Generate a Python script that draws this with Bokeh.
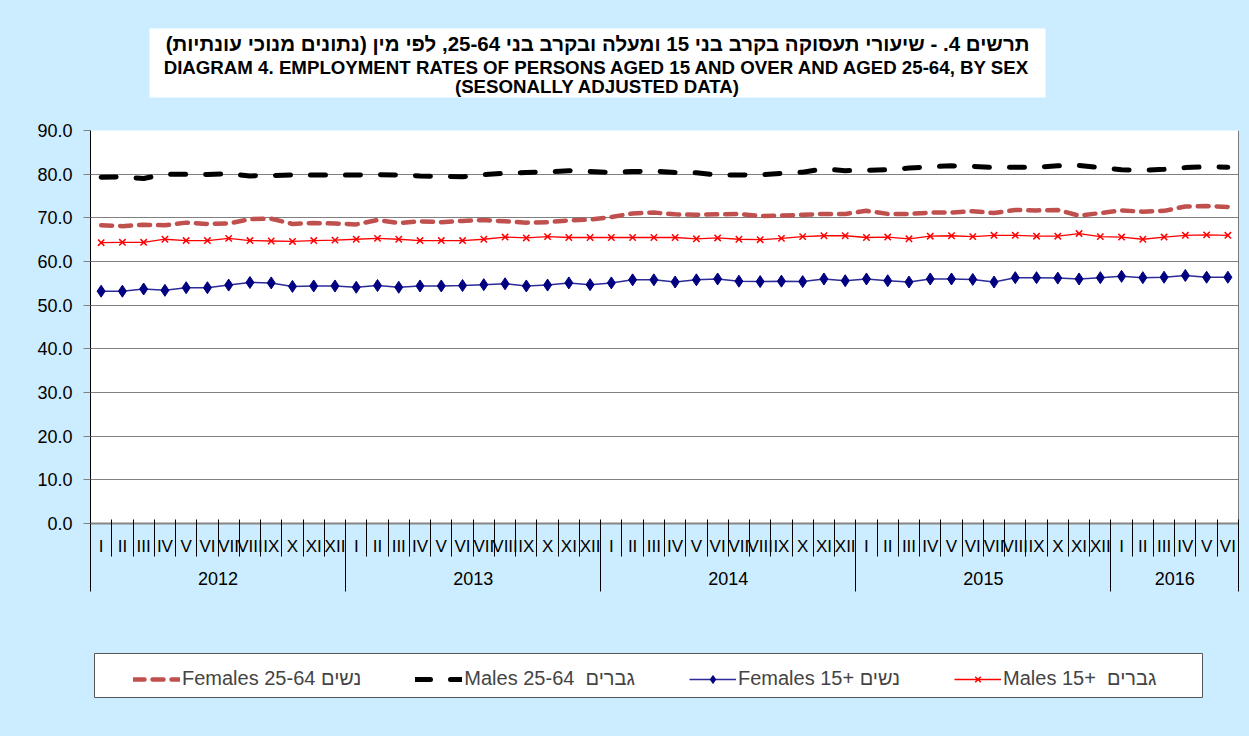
from bokeh.plotting import figure
from bokeh.layouts import column
from bokeh.models import (Range1d, LinearAxis, FixedTicker, NumeralTickFormatter, Legend,
                          LegendItem, Label, Span, Grid)
from bokeh.embed import file_html
from bokeh.resources import INLINE

# ---------------- data ----------------
roman = ["I", "II", "III", "IV", "V", "VI", "VII", "VIII", "IX", "X", "XI", "XII"]
years = ["2012", "2013", "2014", "2015", "2016"]
months_in_year = [12, 12, 12, 12, 6]

females_25_64 = [68.3, 68.1, 68.4, 68.3, 68.9, 68.6, 68.7, 69.7, 69.8, 68.6, 68.8, 68.7, 68.5,
                 69.5, 68.8, 69.2, 69.0, 69.3, 69.5, 69.2, 68.9, 69.0, 69.4, 69.6, 70.2, 71.0, 71.2,
                 70.8, 70.7, 70.8, 70.9, 70.4, 70.5, 70.7, 70.9, 70.9, 71.6, 70.9, 70.9, 71.2, 71.2,
                 71.5, 71.1, 71.8, 71.7, 71.8, 70.5, 71.1, 71.7, 71.4, 71.6, 72.6, 72.7, 72.5]
males_25_64 = [79.3, 79.4, 79.0, 80.0, 80.0, 79.9, 80.1, 79.6, 79.7, 79.8, 79.8, 79.8, 79.8,
               79.9, 79.8, 79.6, 79.5, 79.4, 79.9, 80.2, 80.4, 80.5, 80.8, 80.6, 80.4, 80.6, 80.7,
               80.4, 80.3, 79.8, 79.8, 79.85, 80.2, 80.45, 81.2, 80.8, 80.9, 81.0, 81.4, 81.7, 81.9,
               81.8, 81.5, 81.6, 81.6, 81.9, 82.0, 81.5, 81.0, 80.9, 81.1, 81.5, 81.7, 81.6]
females_15 = [53.2, 53.2, 53.7, 53.4, 54.0, 54.0, 54.6, 55.2, 55.1, 54.3, 54.4, 54.4, 54.1,
              54.5, 54.1, 54.4, 54.4, 54.5, 54.7, 54.9, 54.4, 54.6, 55.1, 54.7, 55.1, 55.8, 55.8,
              55.3, 55.8, 56.0, 55.5, 55.4, 55.5, 55.4, 56.0, 55.6, 56.0, 55.6, 55.3, 56.0, 56.0,
              55.9, 55.3, 56.3, 56.3, 56.2, 56.0, 56.3, 56.6, 56.3, 56.4, 56.8, 56.4, 56.4]
males_15 = [64.3, 64.4, 64.4, 65.1, 64.8, 64.8, 65.3, 64.8, 64.7, 64.6, 64.8, 64.9, 65.1,
            65.3, 65.1, 64.8, 64.8, 64.8, 65.1, 65.6, 65.4, 65.7, 65.5, 65.5, 65.5, 65.5, 65.5,
            65.5, 65.2, 65.4, 65.1, 65.0, 65.3, 65.7, 65.9, 65.9, 65.5, 65.6, 65.2, 65.8, 65.9,
            65.7, 66.0, 66.0, 65.8, 65.8, 66.4, 65.7, 65.6, 65.1, 65.6, 66.0, 66.1, 66.0]

y_ticks = [0, 10, 20, 30, 40, 50, 60, 70, 80, 90]

title_he = "תרשים 4. - שיעורי תעסוקה בקרב בני 15 ומעלה ובקרב בני 25-64, לפי מין (נתונים מנוכי עונתיות)"
title_en1 = "DIAGRAM 4. EMPLOYMENT RATES OF PERSONS AGED 15 AND OVER AND AGED 25-64, BY SEX"
title_en2 = "(SESONALLY ADJUSTED DATA)"
labels = ["Females 25-64 נשים", "Males 25-64  גברים", "Females 15+ נשים", "Males 15+  גברים"]

# ---------------- derived ----------------
month_labels = []
for cnt in months_in_year:
    month_labels += roman[:cnt]
n = len(month_labels)
xs = [i + 0.5 for i in range(n)]
bounds = list(range(n + 1))
year_bounds = [0]
for cnt in months_in_year:
    year_bounds.append(year_bounds[-1] + cnt)
year_centers = [(year_bounds[i] + year_bounds[i + 1]) / 2 for i in range(len(years))]

FONT = "Liberation Sans"
BG = "#CCECFF"
W = 1249
FL, FR = 90, 1238          # frame left / right (page pixels)

# ---------------- title block (page y 0..100, data units = pixels) ----------------
pt = figure(width=W, height=100, output_backend="svg", toolbar_location=None,
            x_range=Range1d(FL, FR), y_range=Range1d(100, 0),
            x_axis_type=None, y_axis_type=None,
            min_border_left=FL, min_border_right=W - FR, min_border_top=0, min_border_bottom=0)
pt.background_fill_color = BG
pt.border_fill_color = BG
pt.outline_line_color = None
pt.quad(left=[149], right=[1045], top=[28], bottom=[97], fill_color="white", line_color=None)
for txt, yy, size in [(title_he, 43, "20.5px"), (title_en1, 67, "18.7px"),
                      (title_en2, 86, "18.7px")]:
    pt.add_layout(Label(x=597, y=yy, text=txt,
                        text_align="center", text_baseline="middle", text_font=FONT,
                        text_font_style="bold", text_font_size=size, text_color="black"))

# ---------------- main chart (page y 100..600) ----------------
p = figure(width=W, height=500, output_backend="svg", toolbar_location=None,
           x_range=Range1d(0, n), y_range=Range1d(0, 90),
           x_axis_type=None, y_axis_type=None,
           min_border_left=FL, min_border_right=W - FR, min_border_top=30,
           min_border_bottom=77)
p.background_fill_color = "white"
p.border_fill_color = BG
p.outline_line_color = None

yticker = FixedTicker(ticks=y_ticks, minor_ticks=[])
p.add_layout(Grid(dimension=1, ticker=yticker, grid_line_color="#808080", grid_line_width=1))

yaxis = LinearAxis(ticker=yticker, formatter=NumeralTickFormatter(format="0.0"))
yaxis.axis_line_color = "black"
yaxis.major_tick_out = 7
yaxis.major_tick_in = 0
yaxis.major_tick_line_color = "#808080"
yaxis.minor_tick_line_color = None
yaxis.major_label_standoff = 11
yaxis.major_label_text_font = FONT
yaxis.major_label_text_font_size = "18px"
yaxis.major_label_text_color = "black"
p.add_layout(yaxis, "left")

month_axis = LinearAxis(ticker=FixedTicker(ticks=xs, minor_ticks=bounds),
                        major_label_overrides={x: lab for x, lab in zip(xs, month_labels)})
month_axis.axis_line_color = "#868686"
month_axis.axis_line_width = 2
month_axis.major_tick_out = 0
month_axis.major_tick_in = 0
month_axis.minor_tick_out = 33
month_axis.minor_tick_in = 4
month_axis.minor_tick_line_color = "black"
month_axis.major_label_standoff = -20
month_axis.major_label_text_font = FONT
month_axis.major_label_text_font_size = "17px"
month_axis.major_label_text_color = "black"
p.add_layout(month_axis, "below")

year_axis = LinearAxis(ticker=FixedTicker(ticks=year_centers, minor_ticks=year_bounds),
                       major_label_overrides={x: y for x, y in zip(year_centers, years)})
year_axis.axis_line_color = None
year_axis.major_tick_out = 0
year_axis.major_tick_in = 0
year_axis.minor_tick_in = 32
year_axis.minor_tick_out = 33
year_axis.minor_tick_line_color = "black"
year_axis.major_label_standoff = -20
year_axis.major_label_text_font = FONT
year_axis.major_label_text_font_size = "18px"
year_axis.major_label_text_color = "black"
p.add_layout(year_axis, "below")

p.add_layout(Span(location=n, dimension="height", line_color="black", line_width=1))

F2564 = dict(line_color="#C0504D", line_width=4.5, line_dash="11 8", line_cap="round")
M2564 = dict(line_color="black", line_width=5, line_dash="15 20", line_cap="round")
F15L = dict(line_color="#2B2B9A", line_width=1.5)
F15M = dict(marker="diamond", size=12, fill_color="#000080", line_color="#000080")
M15L = dict(line_color="#FF0000", line_width=1.3)
M15M = dict(marker="x", size=9, line_color="#FF0000", line_width=1.5)

p.line(xs, females_25_64, **F2564)
p.line(xs, males_25_64, **M2564)
p.line(xs, females_15, **F15L)
p.scatter(xs, females_15, **F15M)
p.line(xs, males_15, **M15L)
p.scatter(xs, males_15, **M15M)

# ---------------- legend block (page y 600..736, data units = pixels) ----------------
pl = figure(width=W, height=136, output_backend="svg", toolbar_location=None,
            x_range=Range1d(FL, FR), y_range=Range1d(736, 600),
            x_axis_type=None, y_axis_type=None,
            min_border_left=FL, min_border_right=W - FR, min_border_top=0, min_border_bottom=0)
pl.background_fill_color = BG
pl.border_fill_color = BG
pl.outline_line_color = None
pl.quad(left=[94], right=[1202], top=[653], bottom=[697], fill_color="white",
        line_color="#555555", line_width=1)
# legend sample renderers, placed off-screen (only their glyph samples are shown)
off_x, off_y = [-1000], [-1000]
l1 = pl.line(off_x, off_y, **F2564)
l2 = pl.line(off_x, off_y, **M2564)
l3a = pl.line(off_x, off_y, **F15L)
l3b = pl.scatter(off_x, off_y, **F15M)
l4a = pl.line(off_x, off_y, **M15L)
l4b = pl.scatter(off_x, off_y, **M15M)
legend = Legend(items=[LegendItem(label=labels[0], renderers=[l1]),
                       LegendItem(label=labels[1], renderers=[l2]),
                       LegendItem(label=labels[2], renderers=[l3a, l3b]),
                       LegendItem(label=labels[3], renderers=[l4a, l4b])],
                orientation="horizontal", location=(43, 46), border_line_color=None,
                background_fill_alpha=0, padding=5, spacing=54, glyph_width=47,
                label_standoff=2, label_text_font=FONT, label_text_font_size="20px",
                margin=0)
pl.add_layout(legend)

layout = column(pt, p, pl, spacing=0, styles={"background-color": BG})
open("out.html", "w").write(file_html(layout, INLINE))
